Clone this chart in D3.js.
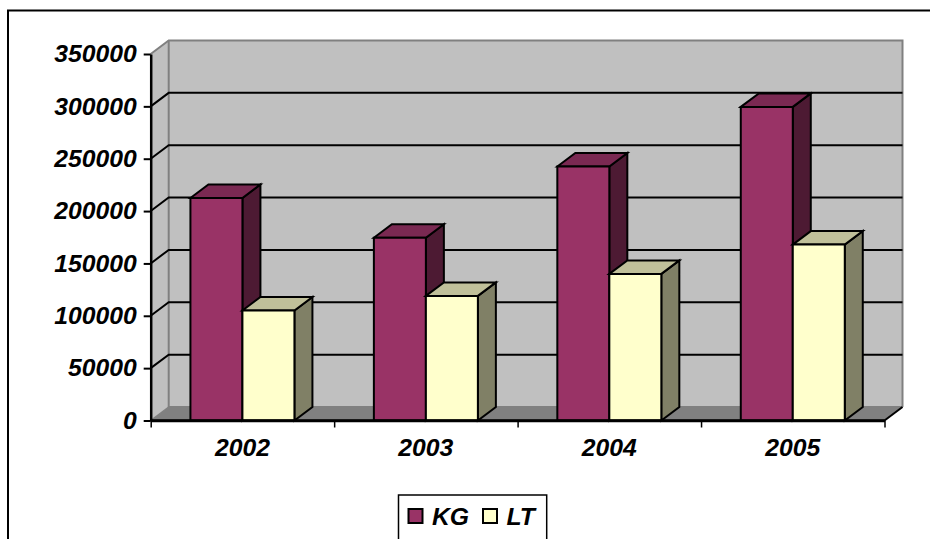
<!DOCTYPE html>
<html><head><meta charset="utf-8">
<script src="https://cdn.jsdelivr.net/npm/d3@7"></script>
<style>html,body{margin:0;padding:0;background:#fff}svg{display:block}
text{font-family:"Liberation Sans",Arial,sans-serif;font-weight:bold;font-style:italic;fill:#000}</style>
</head><body><div id="c"></div>
<script>
const categories = ["2002","2003","2004","2005"];
const seriesNames = ["KG","LT"];
const kgValues = [212500,174500,242500,299500];
const ltValues = [105000,119000,140000,168000];
const yTicks = [0,50000,100000,150000,200000,250000,300000,350000];
const colors = {KG:{front:"#993366",top:"#7a2952",side:"#4d1a33"},LT:{front:"#ffffcc",top:"#c0c09a",side:"#808066"}};

const W=930,H=539, dx=18, dy=-13.5, textStretch=1.03, fontSize=24;
const svg=d3.select("#c").append("svg").attr("width",W).attr("height",H);
const x=d3.scaleBand().domain(categories).range([150.7,884.5]);
const s=d3.scaleBand().domain(seriesNames).range([-52,52]);
const y=d3.scaleLinear().domain([0,350000]).range([420.5,54]);
const poly=d3.line();
const [x0,x1]=x.range(), yb=y(0), yt=y(350000);
const stretch=sel=>sel.each(function(){this.setAttribute("lengthAdjust","spacingAndGlyphs");this.setAttribute("textLength",this.getComputedTextLength()*textStretch);});

// frame
svg.append("path").attr("d",poly([[8,H],[8,10.5],[W,10.5]])).attr("fill","none").attr("stroke","#000").attr("stroke-width",2);

// walls
svg.append("path").attr("d",poly([[x0+dx,yt+dy],[x1+dx,yt+dy],[x1+dx,yb+dy],[x0+dx,yb+dy]])).attr("fill","#c0c0c0");
svg.append("path").attr("d",poly([[x0,yt],[x0+dx,yt+dy],[x0+dx,yb+dy],[x0,yb]])).attr("fill","#c0c0c0");
svg.append("path").attr("d",poly([[x0,yb],[x0+dx,yb+dy],[x1+dx,yb+dy],[x1,yb]])).attr("fill","#808080");
// wall edges
svg.append("path").attr("d",poly([[x0,yt],[x0+dx,yt+dy],[x1+dx,yt+dy],[x1+dx,yb+dy]])).attr("fill","none").attr("stroke","#808080").attr("stroke-width",2);
svg.append("path").attr("d",poly([[x0+dx,yt+dy],[x0+dx,yb+dy],[x1+dx,yb+dy]])).attr("fill","none").attr("stroke","#808080").attr("stroke-width",2);

// gridlines
yTicks.filter(t=>t>0&&t<350000).forEach(t=>{
  svg.append("path").attr("d",poly([[x0,y(t)],[x0+dx,y(t)+dy],[x1+dx,y(t)+dy]])).attr("fill","none").attr("stroke","#000").attr("stroke-width",2);
});
svg.append("path").attr("d",poly([[x0,yb],[x0+dx,yb+dy]])).attr("fill","none").attr("stroke","#808080").attr("stroke-width",1.5);
svg.append("path").attr("d",poly([[x1,yb],[x1+dx,yb+dy]])).attr("fill","none").attr("stroke","#000").attr("stroke-width",2);

// axes
const axisStyle=g=>{g.selectAll("path,line").attr("stroke","#000").attr("stroke-width",2);g.select(".domain").attr("stroke-width",2.5);};
const yAxis=svg.append("g").attr("transform",`translate(${x0},0)`)
  .call(d3.axisLeft(y).tickValues(yTicks).tickFormat(d3.format("d")).tickSize(7).tickSizeOuter(0).tickPadding(7));
yAxis.call(axisStyle);
const xEdge=d3.scalePoint().domain(d3.range(categories.length+1)).range([x0,x1]);
const xTickG=svg.append("g").attr("transform",`translate(0,${yb})`)
  .call(d3.axisBottom(xEdge).tickSize(7).tickSizeOuter(0).tickFormat(""));
xTickG.call(axisStyle);
xTickG.selectAll("line").attr("stroke-width",1.5);

// bars
const rows=categories.map((c,i)=>({c,KG:kgValues[i],LT:ltValues[i]}));
rows.forEach(r=>{
  seriesNames.forEach(n=>{
    const left=x(r.c)+x.bandwidth()/2+s(n), w=s.bandwidth(), top=y(r[n]);
    const g=svg.append("g").attr("stroke","#000").attr("stroke-width",2).attr("stroke-linejoin","miter");
    g.append("path").attr("fill",colors[n].side).attr("d",poly([[left+w,top],[left+w+dx,top+dy],[left+w+dx,yb+dy],[left+w,yb]])+"Z");
    g.append("path").attr("fill",colors[n].top).attr("d",poly([[left,top],[left+dx,top+dy],[left+w+dx,top+dy],[left+w,top]])+"Z");
    g.append("path").attr("fill",colors[n].front).attr("d",poly([[left,top],[left+w,top],[left+w,yb],[left,yb]])+"Z");
  });
});
// baseline over the bars
svg.append("path").attr("d",poly([[x0,yb],[x1,yb]])).attr("stroke","#000").attr("stroke-width",2.5);

// tick labels
yAxis.selectAll("text").attr("font-size",fontSize).style("font-family",'"Liberation Sans"').style("font-weight","bold").style("font-style","italic").attr("fill","#000").call(stretch);
svg.append("g").selectAll("text").data(categories).join("text")
  .attr("x",d=>x(d)+x.bandwidth()/2).attr("y",yb+35).attr("text-anchor","middle").attr("font-size",fontSize).text(d=>d).call(stretch);

// legend
const lg=svg.append("g");
lg.append("path").attr("d",poly([[398.5,H],[398.5,495],[546.7,495],[546.7,H]])).attr("fill","#fff").attr("stroke","#000").attr("stroke-width",1.5);
const lx=d3.scalePoint().domain(seriesNames).range([408.5,483]);
seriesNames.forEach(n=>{
  lg.append("rect").attr("x",lx(n)).attr("y",509).attr("width",14).attr("height",14).attr("fill",colors[n].front).attr("stroke","#000").attr("stroke-width",2);
  lg.append("text").attr("x",lx(n)+23.5).attr("y",525).attr("font-size",fontSize).text(n).call(stretch);
});
</script></body></html>
